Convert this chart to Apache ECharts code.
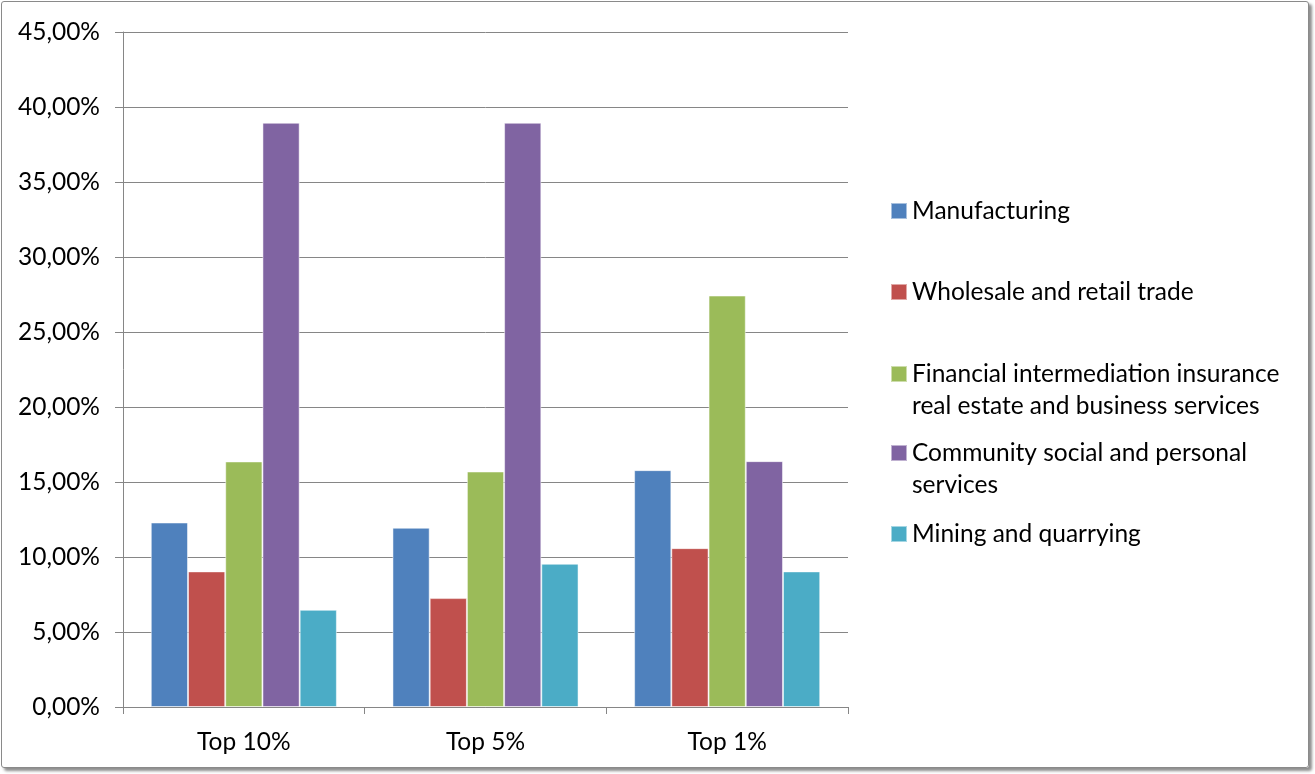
<!DOCTYPE html>
<html>
<head>
<meta charset="utf-8">
<script src="https://cdn.jsdelivr.net/npm/echarts@6/dist/echarts.min.js"></script>
<style>
html,body{margin:0;padding:0;background:#fff;}
#chart{position:absolute;left:0;top:0;width:1315px;height:774px;}
#frame{position:absolute;left:1px;top:1px;width:1306px;height:765px;border:1px solid #8a8a8a;border-radius:3px;box-shadow:3px 3px 3px rgba(0,0,0,0.45);pointer-events:none;}
</style>
</head>
<body>
<div id="chart"></div>
<div id="frame"></div>
<script>
const categories = ['Top 10%', 'Top 5%', 'Top 1%'];
const seriesNames = [
  'Manufacturing',
  'Wholesale and retail trade',
  'Financial intermediation insurance real estate and business services',
  'Community social and personal services',
  'Mining and quarrying'
];
const legendLabels = [
  'Manufacturing',
  'Wholesale and retail trade',
  'Financial intermediation insurance\nreal estate and business services',
  'Community social and personal\nservices',
  'Mining and quarrying'
];
const manufacturing = [12.30, 11.95, 15.79];
const wholesale = [9.04, 7.26, 10.59];
const financial = [16.37, 15.70, 27.43];
const community = [38.95, 38.95, 16.39];
const mining = [6.48, 9.55, 9.04];
const colors = ['#4F81BD', '#C0504D', '#9BBB59', '#8064A2', '#4BACC6'];

const values = [manufacturing, wholesale, financial, community, mining];
const FONT = 'Lato';
const FS = 24.5;
// icon centres: 211, 292, 374, 453, 534
const legendTops = [195, 276, 326, 405, 518];

const chart = echarts.init(document.getElementById('chart'));
chart.setOption({
  animation: false,
  textStyle: {fontFamily: FONT},
  grid: {left: 123, right: 467, top: 32, bottom: 67},
  legend: seriesNames.map((n, i) => ({
    data: [n],
    orient: 'vertical',
    left: 890,
    top: legendTops[i],
    padding: 0,
    itemWidth: 16,
    itemHeight: 16,
    itemGap: 7,
    icon: 'rect',
    selectedMode: false,
    formatter: name => {
      const t = legendLabels[seriesNames.indexOf(name)];
      return t.indexOf('\n') >= 0 ? ' \n' + t : t;
    },
    textStyle: {fontFamily: FONT, fontSize: FS, color: '#000', lineHeight: 32}
  })),
  xAxis: {
    type: 'category',
    data: categories,
    axisLine: {lineStyle: {color: '#868686', width: 1}},
    axisTick: {show: true, length: 7, lineStyle: {color: '#868686'}},
    axisLabel: {fontFamily: FONT, fontSize: FS, color: '#000', margin: 23}
  },
  yAxis: {
    type: 'value',
    min: 0, max: 45, interval: 5,
    axisLine: {show: true, lineStyle: {color: '#868686', width: 1}},
    axisTick: {show: true, length: 8, lineStyle: {color: '#868686'}},
    splitLine: {lineStyle: {color: '#868686', width: 1}},
    axisLabel: {
      fontFamily: FONT, fontSize: FS, color: '#000', margin: 23,
      formatter: v => v.toFixed(2).replace('.', ',') + '%'
    }
  },
  series: seriesNames.map((n, i) => ({
    name: n,
    type: 'bar',
    data: values[i],
    barGap: '0%',
    barCategoryGap: '23%',
    itemStyle: {color: colors[i], borderColor: 'rgba(255,255,255,0.5)', borderWidth: 1}
  }))
});
</script>
</body>
</html>
